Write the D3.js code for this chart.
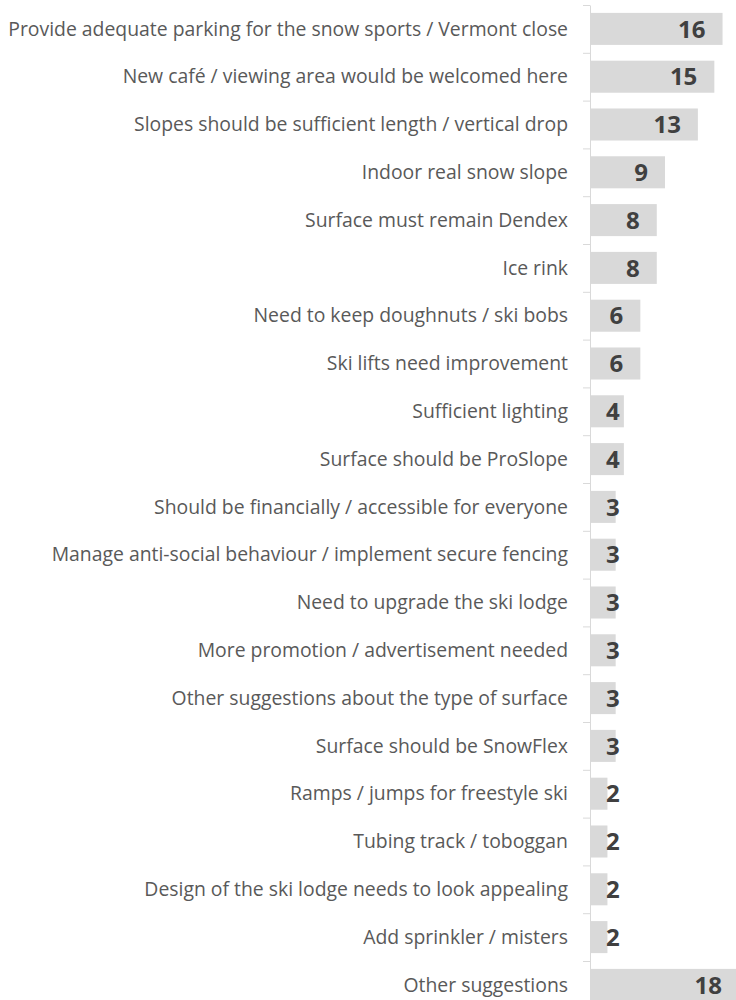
<!DOCTYPE html>
<html lang="en">
<head>
    <meta charset="UTF-8">
    <title>Suggestions</title>
    <style>
        body {
            margin: 0;
            background: #ffffff;
        }
        #chart text {
            font-family: "Open Sans", sans-serif;
        }
        .axis path, .axis line {
            stroke: #d9d9d9;
        }
    </style>
</head>
<body>
<div id="chart"></div>

<script src="https://d3js.org/d3.v7.min.js"></script>
<script>
    const categories = [
        "Provide adequate parking for the snow sports / Vermont close",
        "New café / viewing area would be welcomed here",
        "Slopes should be sufficient length / vertical drop",
        "Indoor real snow slope",
        "Surface must remain Dendex",
        "Ice rink",
        "Need to keep doughnuts / ski bobs",
        "Ski lifts need improvement",
        "Sufficient lighting",
        "Surface should be ProSlope",
        "Should be financially / accessible for everyone",
        "Manage anti-social behaviour / implement secure fencing",
        "Need to upgrade the ski lodge",
        "More promotion / advertisement needed",
        "Other suggestions about the type of surface",
        "Surface should be SnowFlex",
        "Ramps / jumps for freestyle ski",
        "Tubing track / toboggan",
        "Design of the ski lodge needs to look appealing",
        "Add sprinkler / misters",
        "Other suggestions"
    ];
    const counts = [16, 15, 13, 9, 8, 8, 6, 6, 4, 4, 3, 3, 3, 3, 3, 3, 2, 2, 2, 2, 18];

    const width = 736, height = 1000;
    const axisX = 590;
    const step = 47.8;
    const startY = 5;

    const svg = d3.select("#chart").append("svg")
        .attr("width", width)
        .attr("height", height);

    const y = d3.scaleBand()
        .domain(categories)
        .range([startY, startY + step * categories.length])
        .paddingInner(0.33)
        .paddingOuter(0.165);

    const x = d3.scaleLinear()
        .domain([0, 18])
        .range([axisX + 1, axisX + 1 + 148]);

    // bars
    svg.selectAll(".bar")
        .data(categories)
        .enter()
        .append("rect")
        .attr("class", "bar")
        .attr("x", x(0))
        .attr("y", d => y(d))
        .attr("width", (d, i) => x(counts[i]) - x(0))
        .attr("height", y.bandwidth())
        .attr("fill", "#d9d9d9");

    // axis with ticks between categories
    const idx = d3.scaleLinear().domain([0, categories.length]).range([startY, startY + step * categories.length]);
    svg.append("g")
        .attr("class", "axis")
        .attr("transform", `translate(${axisX},0)`)
        .call(d3.axisLeft(idx).tickValues(d3.range(categories.length + 1)).tickFormat("").tickSize(7).tickSizeOuter(0));

    // category labels, sized so the longest fits the left side
    const labels = svg.selectAll(".cat")
        .data(categories)
        .enter()
        .append("text")
        .attr("class", "cat")
        .attr("x", 568)
        .attr("y", d => y(d) + y.bandwidth() / 2)
        .attr("dy", "0.35em")
        .attr("text-anchor", "end")
        .attr("fill", "#595959")
        .style("font-size", "16px")
        .text(d => d);

    const longest = d3.max(labels.nodes(), n => n.getComputedTextLength());
    const fs = 16 * 560 / longest;
    labels.style("font-size", fs + "px");

    // value labels
    svg.selectAll(".val")
        .data(categories)
        .enter()
        .append("text")
        .attr("class", "val")
        .attr("y", d => y(d) + y.bandwidth() / 2)
        .attr("dy", "0.36em")
        .attr("text-anchor", "end")
        .attr("fill", "#404040")
        .style("font-size", "24px")
        .style("font-weight", "bold")
        .text((d, i) => counts[i])
        .attr("x", function (d, i) {
            const w = this.getComputedTextLength();
            return Math.max(x(counts[i]) - 17, x(0) + 15 + w);
        });
</script>
</body>
</html>
